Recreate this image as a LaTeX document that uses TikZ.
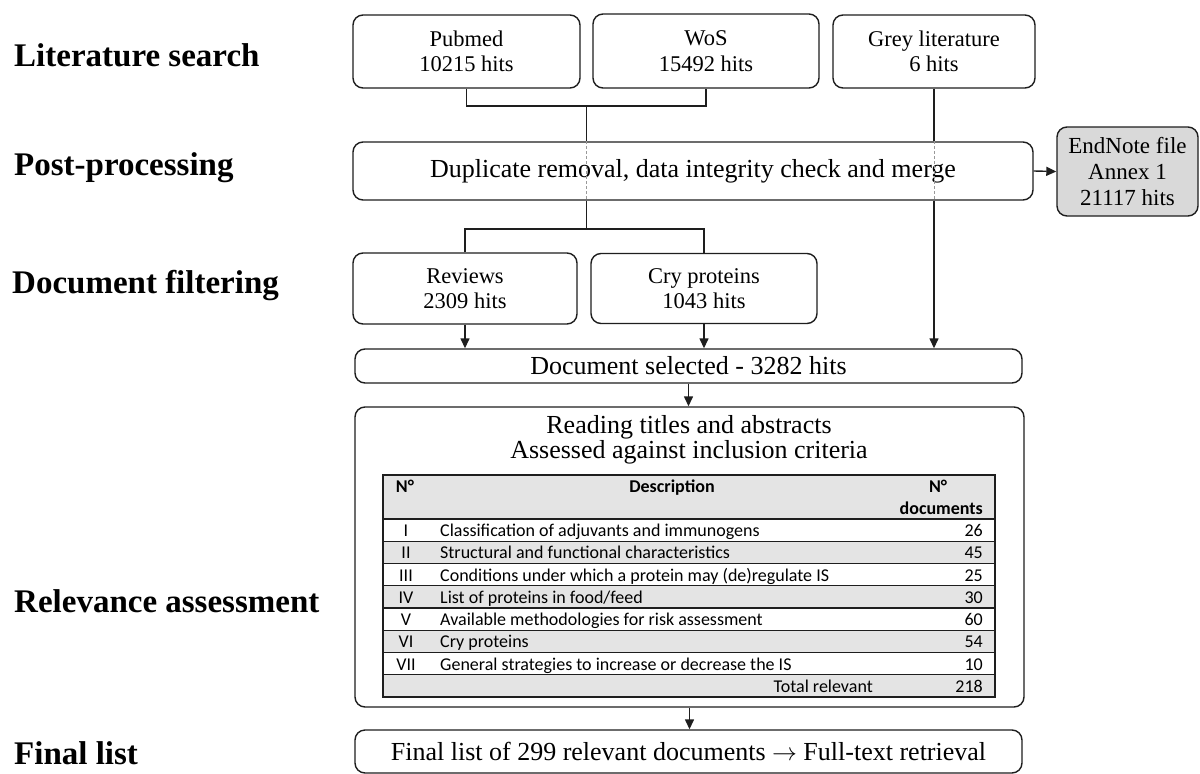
\documentclass[tikz,border=0pt]{standalone}
\usepackage{fontspec}
\setmainfont{Liberation Serif}
\newfontfamily\tabfont{Carlito}
\usetikzlibrary{arrows.meta}
\definecolor{linec}{HTML}{1E1E1E}
\definecolor{rowgrey}{HTML}{E4E4E4}
\definecolor{notegrey}{HTML}{D9D9D9}
\begin{document}
\begin{tikzpicture}[x=1pt,y=-1pt,
  conn/.style={draw=linec, line width=1.4pt},
  arr/.style={conn, -{Triangle[length=10pt,width=9pt]}},
  box/.style={draw=linec, line width=1.4pt, rounded corners=10pt, inner sep=0pt, align=center, font=\fontsize{22.5}{25.5}\selectfont},
  bigbox/.style={box, font=\fontsize{26}{30}\selectfont},
  stage/.style={anchor=west, inner sep=0pt, font=\fontsize{33}{36}\selectfont\bfseries},
  tabtxt/.style={inner sep=0pt, anchor=base, font=\tabfont\fontsize{18}{21}\selectfont},
  tabl/.style={tabtxt, anchor=base west},
  tabr/.style={tabtxt, anchor=base east},
  tabhead/.style={tabtxt, font=\tabfont\fontsize{18}{21}\selectfont\bfseries},
  ghost/.style={draw=black!40, line width=0.6pt, dash pattern=on 3pt off 2pt},
]
\useasboundingbox (0,0) rectangle (1200,774);
\fill[white] (0,0) rectangle (1200,774);

% stage labels
\node[stage] (s1) at (14,55) {Literature search};
\node[stage] (s2) at (14,168) {Post-processing};
\node[stage] (s3) at (12,286) {Document filtering};
\node[stage] (s4) at (14,601) {Relevance assessment};
\node[stage] (s5) at (14,753) {Final list};

% top boxes
\node[box, minimum width=227pt, minimum height=73pt] (pub) at (466.5,51.5) {Pubmed\\10215 hits};
\node[box, minimum width=226pt, minimum height=74pt] (wos) at (706,51) {WoS\\15492 hits};
\node[box, minimum width=202pt, minimum height=73pt] (grey) at (934,51.5) {Grey literature\\6 hits};

% post-processing
\node[bigbox, minimum width=680pt, minimum height=58pt] (post) at (693,171) {Duplicate removal, data integrity check and merge};
\node[box, fill=notegrey, minimum width=141pt, minimum height=89pt, font=\fontsize{23}{26}\selectfont] (endn) at (1127.5,171.5) {EndNote file\\Annex 1\\21117 hits};

% filtering
\node[box, minimum width=224pt, minimum height=71pt] (rev) at (465,288.5) {Reviews\\2309 hits};
\node[box, minimum width=226pt, minimum height=70pt] (cry) at (704,288.5) {Cry proteins\\1043 hits};

\node[bigbox, minimum width=667pt, minimum height=34pt] (doc) at (688.5,366) {Document selected - 3282 hits};

% relevance
\node[box, minimum width=669pt, minimum height=300pt] (rel) at (689.5,557) {};
\node[inner sep=0pt, font=\fontsize{26}{30}\selectfont] (rt1) at (689,427) {Reading titles and abstracts};
\node[inner sep=0pt, font=\fontsize{26}{30}\selectfont] (rt2) at (689,452) {Assessed against inclusion criteria};

% final
\node[bigbox, minimum width=667pt, minimum height=43pt] (fin) at (688.5,751.5) {Final list of 299 relevant documents $\rightarrow$ Full-text retrieval};

% connectors
\coordinate (j1) at (586.5,106);
\draw[conn] (pub.south) |- (j1) -| (wos.south);
\draw[conn] (j1) -- (j1 |- post.north);
\draw[ghost] (j1 |- post.north) -- (j1 |- post.south);
\draw[conn] (grey.south) -- (grey.south |- post.north);
\draw[ghost] (grey.south |- post.north) -- (grey.south |- post.south);
\draw[arr] (grey.south |- post.south) -- (grey.south |- doc.north);
\draw[arr] (post.east) -- (endn.west);

\coordinate (j2) at (586.5,229);
\draw[conn] (j2 |- post.south) -- (j2);
\draw[conn] (rev.north) |- (j2) -| (cry.north);
\draw[arr] (rev.south) -- (rev.south |- doc.north);
\draw[arr] (cry.south) -- (cry.south |- doc.north);
\draw[arr] (doc.south) -- (doc.south |- rel.north);
\draw[arr] (rel.south) -- (rel.south |- fin.north);

% table
\fill[rowgrey] (383,475) rectangle (995,519);
\foreach \k in {1,3,5,7} {
  \fill[rowgrey] (383,{519+22.25*\k}) rectangle (995,{519+22.25*(\k+1)});
}
\foreach \k in {0,...,7} {
  \draw[draw=linec, line width=1.1pt] (383,{519+22.25*\k}) -- (995,{519+22.25*\k});
}
\draw[draw=linec, line width=1.4pt] (383,475) rectangle (995,697);

\node[tabhead] (hn) at (405,492) {N°};
\node[tabhead] (hd) at (672,492) {Description};
\node[tabhead] (hc1) at (938,492) {N°};
\node[tabhead, anchor=base east] (hc2) at (983,514.5) {documents};

\node[tabtxt] (n1) at (406,536.5) {I};
\node[tabl] (d1) at (440,536.5) {Classification of adjuvants and immunogens};
\node[tabr] (c1) at (983,536.5) {26};
\node[tabtxt] (n2) at (406,558.8) {II};
\node[tabl] (d2) at (440,558.8) {Structural and functional characteristics};
\node[tabr] (c2) at (983,558.8) {45};
\node[tabtxt] (n3) at (406,581) {III};
\node[tabl] (d3) at (440,581) {Conditions under which a protein may (de)regulate IS};
\node[tabr] (c3) at (983,581) {25};
\node[tabtxt] (n4) at (406,603.3) {IV};
\node[tabl] (d4) at (440,603.3) {List of proteins in food/feed};
\node[tabr] (c4) at (983,603.3) {30};
\node[tabtxt] (n5) at (406,625.5) {V};
\node[tabl] (d5) at (440,625.5) {Available methodologies for risk assessment};
\node[tabr] (c5) at (983,625.5) {60};
\node[tabtxt] (n6) at (406,647.8) {VI};
\node[tabl] (d6) at (440,647.8) {Cry proteins};
\node[tabr] (c6) at (983,647.8) {54};
\node[tabtxt] (n7) at (406,670) {VII};
\node[tabl] (d7) at (440,670) {General strategies to increase or decrease the IS};
\node[tabr] (c7) at (983,670) {10};
\node[tabr] (tl) at (873,692.3) {Total relevant};
\node[tabr] (tv) at (983,692.3) {218};
\end{tikzpicture}
\end{document}
